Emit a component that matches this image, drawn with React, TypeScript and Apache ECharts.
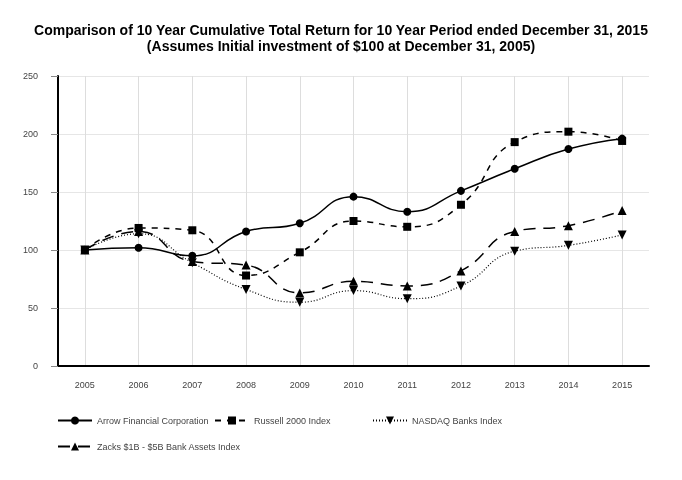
import { useEffect, useRef } from 'react';
import * as echarts from 'echarts';

const years = ['2005', '2006', '2007', '2008', '2009', '2010', '2011', '2012', '2013', '2014', '2015'];
const arrowValues = [100, 102, 95, 116, 123, 146, 133, 151, 170, 187, 196];
const russellValues = [100, 119, 117, 78, 98, 125, 120, 139, 193, 202, 194];
const nasdaqValues = [100, 114, 89, 66, 55, 65, 58, 69, 99, 104, 113];
const zacksValues = [100, 116, 90, 87, 63, 73, 69, 82, 116, 121, 134];
const yTicks = { min: 0, max: 250, interval: 50 };

const titleLines = [
  'Comparison of 10 Year Cumulative Total Return for 10 Year Period ended December 31, 2015',
  '(Assumes Initial investment of $100 at December 31, 2005)',
];

const FONT = '"Liberation Sans", Arial, sans-serif';

export default function App() {
  const chartRef = useRef<HTMLDivElement>(null);

  useEffect(() => {
    if (!chartRef.current) return;
    const chart = echarts.init(chartRef.current, null, { renderer: 'svg' });

    const legendBase = {
      orient: 'horizontal',
      itemWidth: 34,
      itemHeight: 10,
      padding: 0,
      selectedMode: false,
      textStyle: { color: '#444', fontSize: 9, fontFamily: FONT },
    };

    const lineSeries = (name: string, data: number[], symbol: string, size: number, lineType: any, extra: any = {}) => ({
      name,
      type: 'line',
      data,
      smooth: true,
      symbol,
      symbolSize: size,
      itemStyle: { color: '#000' },
      lineStyle: { color: '#000', width: 1.5, type: lineType },
      ...extra,
    });

    chart.setOption({
      animation: false,
      textStyle: { fontFamily: FONT },
      title: {
        text: titleLines.join('\n'),
        left: 'center',
        top: 17,
        textStyle: { fontSize: 14, fontWeight: 'bold', color: '#000', lineHeight: 16, fontFamily: FONT },
      },
      legend: [
        { ...legendBase, left: 57, top: 416, data: ['Arrow Financial Corporation'] },
        { ...legendBase, left: 214, top: 416, data: ['Russell 2000 Index'] },
        { ...legendBase, left: 372, top: 416, data: ['NASDAQ Banks Index'] },
        { ...legendBase, left: 57, top: 442, data: ['Zacks $1B - $5B Bank Assets Index'] },
      ],
      grid: { left: 58, right: 33, top: 76, bottom: 114 },
      xAxis: {
        type: 'category',
        data: years,
        boundaryGap: true,
        axisLine: { lineStyle: { color: '#000', width: 2 } },
        axisTick: { alignWithLabel: true, length: 6, lineStyle: { color: '#666' } },
        axisLabel: { color: '#444', fontSize: 9, margin: 14 },
        splitLine: { show: true, alignWithLabel: true, lineStyle: { color: '#ddd' } },
      },
      yAxis: {
        type: 'value',
        min: yTicks.min,
        max: yTicks.max,
        interval: yTicks.interval,
        axisLine: { show: true, lineStyle: { color: '#000', width: 2 } },
        axisTick: { show: true, length: 7, lineStyle: { color: '#888' } },
        axisLabel: { color: '#444', fontSize: 9, margin: 20 },
        splitLine: { show: true, lineStyle: { color: '#e6e6e6' } },
      },
      series: [
        lineSeries('Russell 2000 Index', russellValues, 'rect', 8, [6, 6]),
        lineSeries('Zacks $1B - $5B Bank Assets Index', zacksValues, 'triangle', 9, [12, 8]),
        lineSeries('NASDAQ Banks Index', nasdaqValues, 'triangle', 9, [1, 2], {
          symbolRotate: 180,
          lineStyle: { color: '#000', width: 1.2, type: [1, 2] },
        }),
        lineSeries('Arrow Financial Corporation', arrowValues, 'circle', 8, 'solid'),
      ],
    });

    return () => {
      chart.dispose();
    };
  }, []);

  return <div ref={chartRef} style={{ position: 'fixed', left: 0, top: 0, width: 682, height: 480 }} />;
}
